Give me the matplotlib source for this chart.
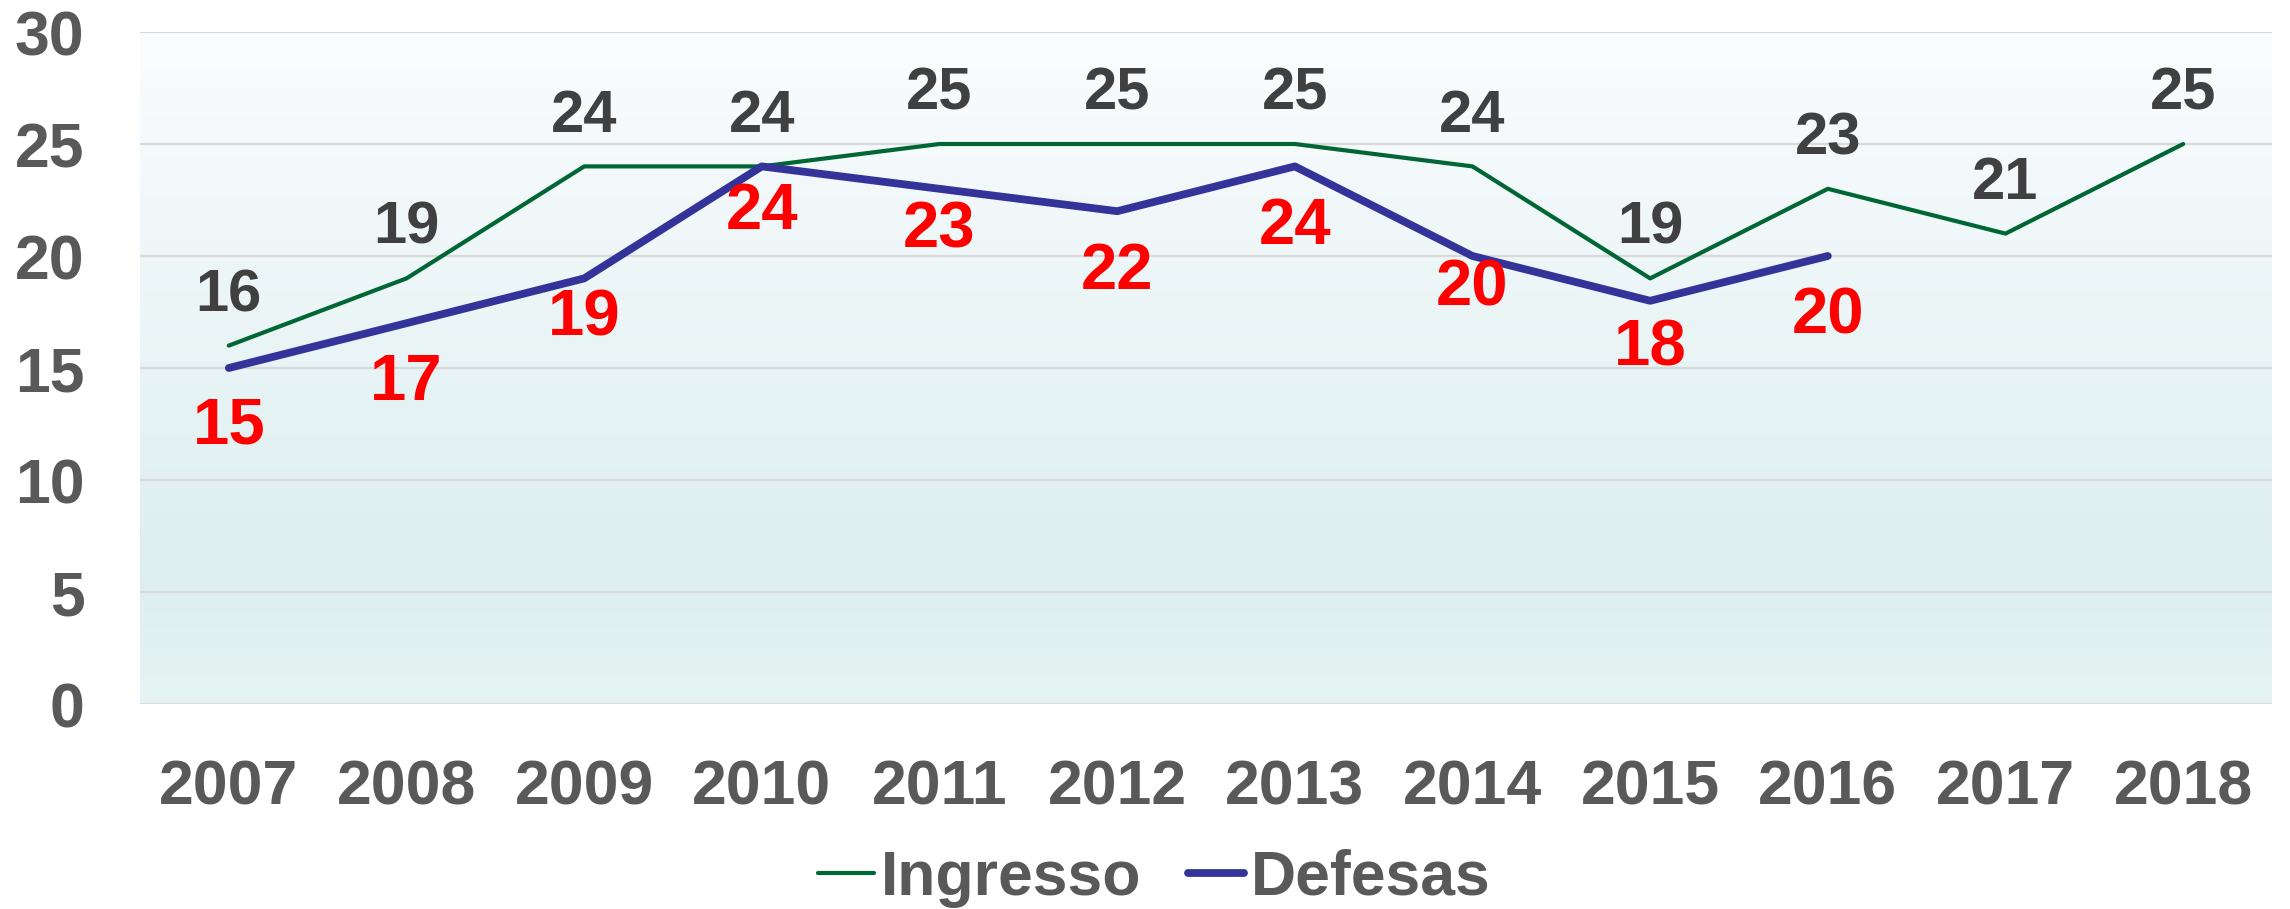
import matplotlib

matplotlib.use("Agg")
import matplotlib.pyplot as plt
import numpy
from matplotlib.colors import to_rgb

years = ["2007", "2008", "2009", "2010", "2011", "2012", "2013", "2014", "2015", "2016", "2017", "2018"]
ingresso = [16, 19, 24, 24, 25, 25, 25, 24, 19, 23, 21, 25]
defesas = [15, 17, 19, 24, 23, 22, 24, 20, 18, 20, numpy.nan, numpy.nan]

# label offsets below the Defesas points (pixels), they were moved by hand in the original
_DEF_LABEL_DY = [59, 60, 40, 46, 42, 61, 61, 33, 48, 61]
_ING_LABEL_DY = 50

_FONT = "Liberation Sans"
_GREEN = "#006633"
_NAVY = "#333399"
_TICK = "#595959"


def _gradient(ax, n):
    # top light, teal towards the bottom
    stops = [(0.0, "#fbfcfe"), (0.55, "#e6f3f4"), (0.8, "#ddeeee"), (1.0, "#e6f3f3")]
    t = numpy.linspace(0, 1, 256)
    rgb = numpy.zeros((256, 1, 3))
    for i in range(3):
        rgb[:, 0, i] = numpy.interp(t, [s[0] for s in stops], [to_rgb(s[1])[i] for s in stops])
    ax.imshow(rgb, extent=[-0.5, n - 0.5, 0, 30], aspect="auto", zorder=0, interpolation="bilinear")


def main():
    plt.rcParams["font.family"] = [_FONT, "DejaVu Sans"]
    plt.rcParams["font.weight"] = "bold"
    fig = plt.figure(figsize=(22.9, 9.09), dpi=100)
    ax = fig.add_axes([140 / 2290, 1 - 704 / 909, 2132 / 2290, 672 / 909])
    x = numpy.arange(len(years))
    _gradient(ax, len(years))

    for v in range(0, 31, 5):
        ax.axhline(v, color="#d9d9d9", lw=1.6, zorder=1)

    ax.plot(x, ingresso, color=_GREEN, lw=3.0, solid_capstyle="round", zorder=3, label="Ingresso")
    ax.plot(x, defesas, color=_NAVY, lw=5.6, solid_capstyle="round", zorder=4, label="Defesas")

    for i, v in enumerate(ingresso):
        ax.annotate(
            str(v), (x[i], v), xytext=(0, _ING_LABEL_DY), textcoords="offset pixels",
            ha="center", va="center", fontsize=43, fontweight="bold", color="#404040", zorder=5,
        )
    for i, v in enumerate(defesas):
        if numpy.isnan(v):
            continue
        ax.annotate(
            str(int(v)), (x[i], v), xytext=(0, -_DEF_LABEL_DY[i]), textcoords="offset pixels",
            ha="center", va="center", fontsize=47, fontweight="bold", color="#ff0000", zorder=5,
        )

    ax.set_xlim(-0.5, len(years) - 0.5)
    ax.set_ylim(0, 30)
    ax.set_xticks(x)
    ax.set_xticklabels(years)
    ax.set_yticks(range(0, 31, 5))
    for s in ax.spines.values():
        s.set_visible(False)
    ax.tick_params(axis="both", length=0, labelsize=45, labelcolor=_TICK)
    ax.tick_params(axis="x", pad=39)
    ax.tick_params(axis="y", pad=40)

    leg = fig.legend(
        loc="center", bbox_to_anchor=(0.504, 1 - 878 / 909), ncol=2, frameon=False,
        fontsize=45, handlelength=0.9, handletextpad=0.1, columnspacing=0.75,
        borderaxespad=0,
    )
    for t in leg.get_texts():
        t.set_color(_TICK)
    for h in leg.get_lines():
        h.set_solid_capstyle("round")

    fig.savefig("out.png", dpi=100)


main()
